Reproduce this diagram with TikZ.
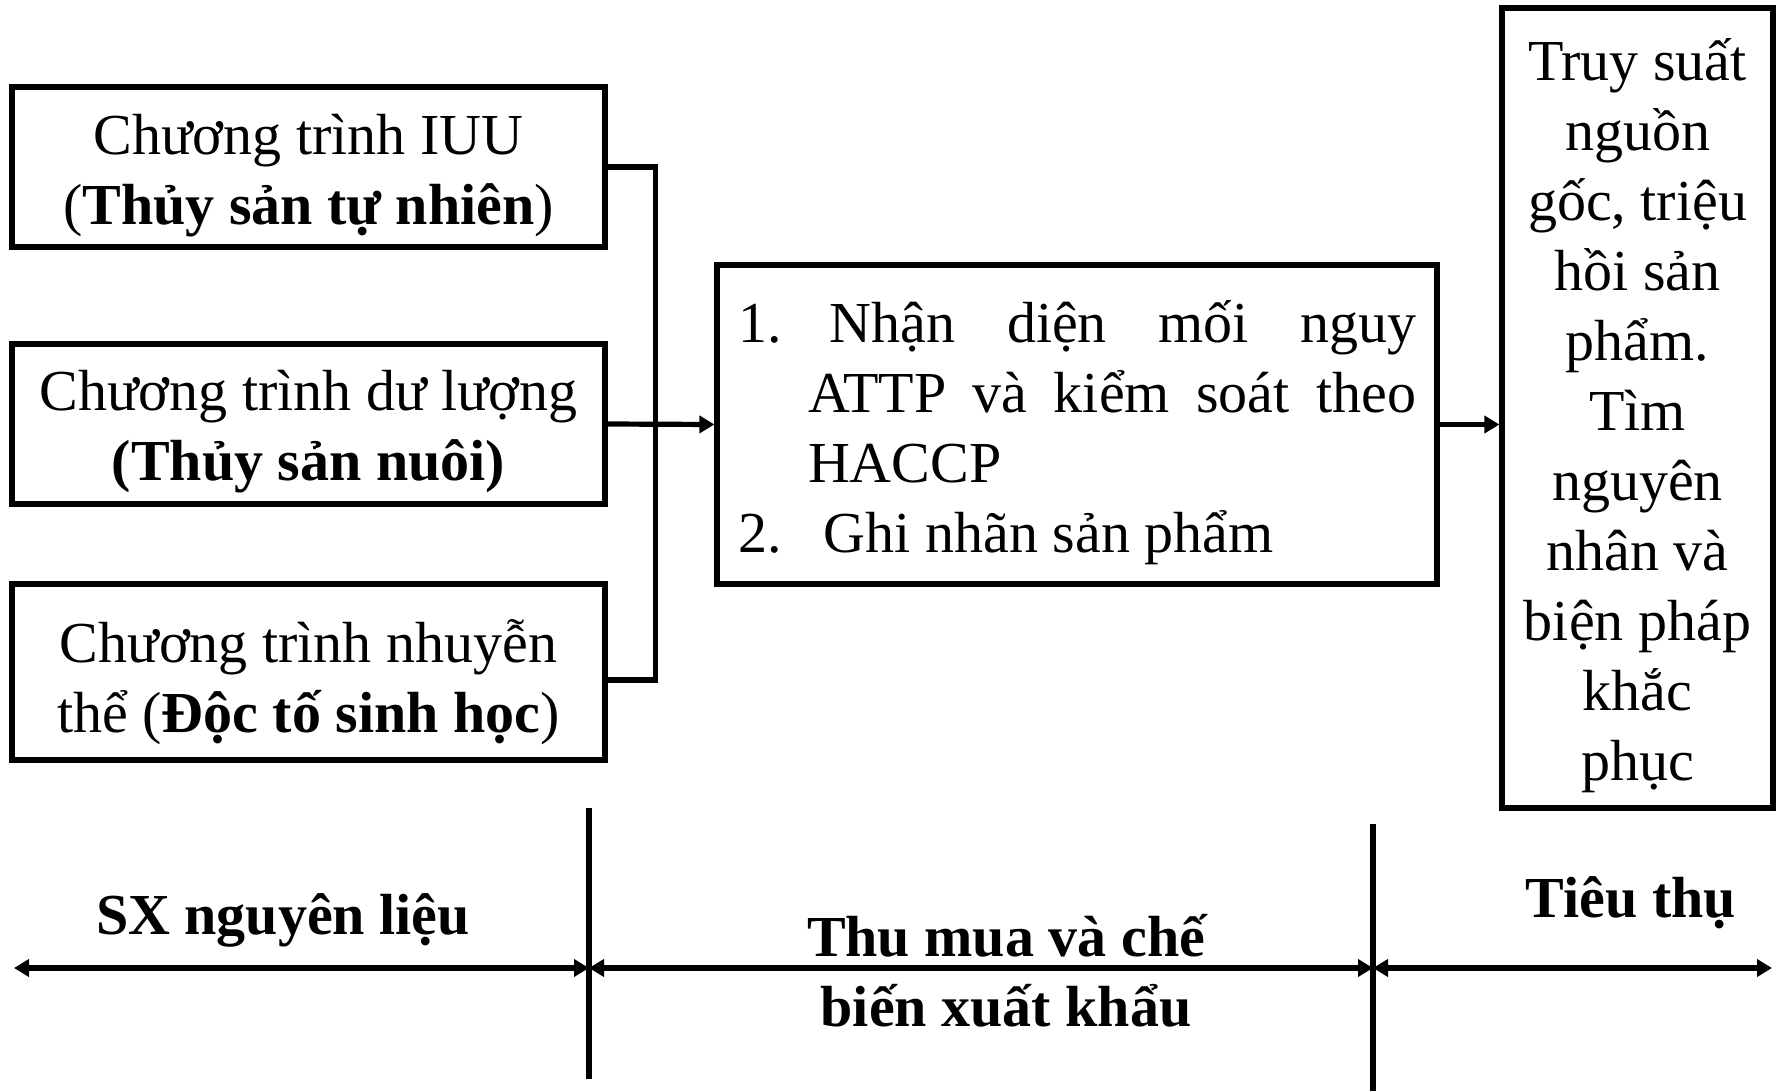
\documentclass[tikz,border=0pt]{standalone}
\usepackage{fontspec}
\setmainfont{Liberation Serif}
\usetikzlibrary{arrows.meta}
\newcommand{\topstrut}[1]{\rule{0pt}{#1}}
\newcommand{\botstrut}[1]{\rule[-#1]{0pt}{0pt}}
\tikzset{
  box/.style={draw, line width=2.6pt, rectangle, inner sep=0pt, align=center,
    font=\fontsize{29}{35}\selectfont},
  conn/.style={line width=2.6pt},
  arr/.style={line width=2.6pt, -{Triangle[length=7.5pt,width=8.5pt]}},
  dblarr/.style={line width=2.8pt, {Triangle[length=7.5pt,width=8.5pt]}-{Triangle[length=7.5pt,width=8.5pt]}},
  sep/.style={line width=2.6pt},
  lbl/.style={font=\fontsize{29}{35}\selectfont\bfseries, align=center, inner sep=0pt}
}
\begin{document}
\begin{tikzpicture}[x=0.5pt,y=-0.5pt]
\useasboundingbox (0,0) rectangle (1777,1091);

\node[box, minimum width=296.5pt, minimum height=80pt] (b1) at (308.5,167)
  {\topstrut{30pt}Chương trình IUU\\(\textbf{Thủy sản tự nhiên})\botstrut{7.4pt}};
\node[box, minimum width=296.5pt, minimum height=80pt] (b2) at (308.5,424)
  {\topstrut{30pt}Chương trình dư lượng\\\textbf{(Thủy sản nuôi)}\botstrut{8.4pt}};
\node[box, minimum width=296.5pt, minimum height=88pt] (b3) at (308.5,672)
  {\topstrut{33pt}Chương trình nhuyễn\\thể (\textbf{Độc tố sinh học})\botstrut{7.4pt}};

\node[box, minimum width=360pt, minimum height=159.5pt, text width=339pt, align=justify] (mid) at (1077,424.5)
  {\hangindent=35pt\hangafter=1\topstrut{30.6pt}\makebox[46pt][l]{1.}Nhận diện mối nguy\linebreak ATTP và kiểm soát theo\linebreak HACCP\par
   \makebox[43pt][l]{2.}Ghi nhãn sản phẩm\botstrut{7.6pt}};

\node[box, minimum width=135.5pt, minimum height=400pt] (res) at (1637.5,408)
  {\topstrut{29.4pt}Truy suất\\nguồn\\gốc, triệu\\hồi sản\\phẩm.\\Tìm\\nguyên\\nhân và\\biện pháp\\khắc\\phục\botstrut{7.3pt}};

\draw[conn] (b1.east) -- ++(48,0) |- ([yshift=-4pt]b3.east);
\draw[arr] (b2.east) -- (mid.west);
\draw[arr] (mid.east) -- (mid.east -| res.west);

\coordinate (v1t) at (589,808);
\coordinate (v1b) at (589,1079);
\coordinate (v2t) at (1373,824);
\coordinate (v2b) at (1373,1091);
\coordinate (hl) at (14,968);
\coordinate (ha) at (589,968);
\coordinate (hb) at (1373,968);
\coordinate (hr) at (1772,968);

\draw[sep] (v1t) -- (v1b);
\draw[sep] (v2t) -- (v2b);
\draw[dblarr] (hl) -- (ha);
\draw[dblarr] (ha) -- (hb);
\draw[dblarr] (hb) -- (hr);

\node[lbl] (l1) at (283,920) {SX nguyên liệu};
\node[lbl] (l2) at (1006,971) {Thu mua và chế\\biến xuất khẩu};
\node[lbl] (l3) at (1631,903) {Tiêu thụ};
\end{tikzpicture}
\end{document}
